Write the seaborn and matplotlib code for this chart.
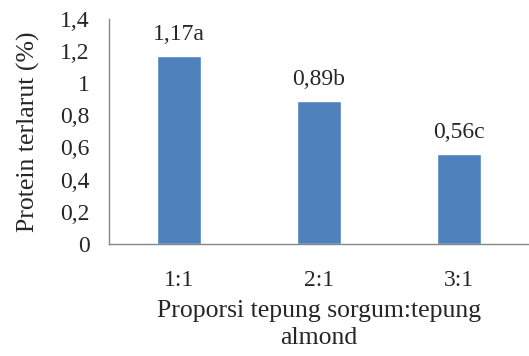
import seaborn as sns, pandas as pd
import matplotlib
matplotlib.use("Agg")
import matplotlib.pyplot as plt

proporsi = ["1:1", "2:1", "3:1"]
protein = [1.17, 0.89, 0.56]
notasi = ["a", "b", "c"]

df = pd.DataFrame({"proporsi": proporsi, "protein": protein})

sns.set_style("white")
plt.rcParams['font.family'] = ['Liberation Serif', 'DejaVu Serif']

f = plt.figure(figsize=(5.29, 3.56), dpi=100)
ax = f.add_axes([0.206, 0.315, 0.794, 0.632])

sns.barplot(x="proporsi", y="protein", data=df, color="#4F81BD", saturation=1,
            width=0.31, ax=ax)

# value labels with significance letters
for i, (v, n) in enumerate(zip(protein, notasi)):
    ax.text(i, v + 0.1, f"{v:.2f}".replace(".", ",") + n, ha="center", va="baseline", fontsize=17)

ax.set_ylim(0, 1.4)
ax.set_xlim(-0.5, 2.5)
yt = [0, 0.2, 0.4, 0.6, 0.8, 1.0, 1.2, 1.4]
ax.set_yticks(yt)
ax.set_yticklabels([("%g" % t).replace(".", ",") for t in yt])
ax.tick_params(axis="both", length=0, labelsize=17)
ax.tick_params(axis="y", pad=14)
ax.tick_params(axis="x", pad=19)

for s in ["top", "right"]:
    ax.spines[s].set_visible(False)
for s in ["left", "bottom"]:
    ax.spines[s].set_color("#868686")
    ax.spines[s].set_linewidth(1.0)

ax.set_ylabel("Protein terlarut (%)", fontsize=18.5, labelpad=14)
ax.set_xlabel("Proporsi tepung sorgum:tepung\nalmond", fontsize=18.5, labelpad=6, linespacing=1.3)

f.savefig("out.png", dpi=100)
